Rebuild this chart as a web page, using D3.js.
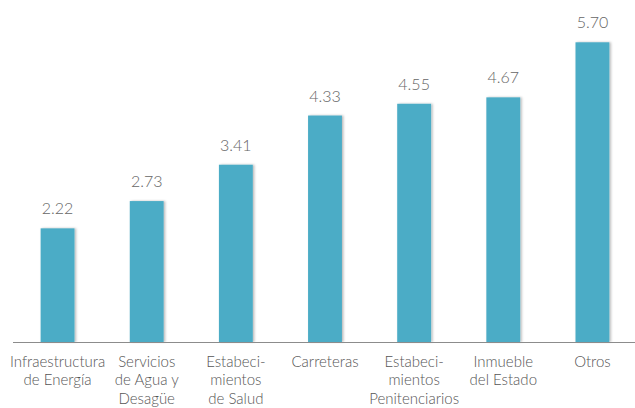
<!DOCTYPE html>
<html>
<head>
<meta charset="utf-8">
<script src="https://cdn.jsdelivr.net/npm/d3@7"></script>
<style>
  html, body { margin: 0; padding: 0; background: #fff; }
  svg text { font-family: "Helvetica Neue", Lato, "Open Sans", sans-serif; font-weight: 300; }
</style>
</head>
<body>
<svg id="chart" width="635" height="408"></svg>
<script>
// Categories (multi-line labels) and values
const categories = [
  ["Infraestructura", "de Energía"],
  ["Servicios", "de Agua y", "Desagüe"],
  ["Estabeci-", "mientos", "de Salud"],
  ["Carreteras"],
  ["Estabeci-", "mientos", "Penitenciarios"],
  ["Inmueble", "del Estado"],
  ["Otros"]
];
const values = [2.22, 2.73, 3.41, 4.33, 4.55, 4.67, 5.70];
const valueLabels = ["2.22", "2.73", "3.41", "4.33", "4.55", "4.67", "5.70"];

const svg = d3.select("#chart");
const W = 635;
const axisY = 342;

const x = d3.scaleBand()
  .domain(d3.range(values.length))
  .range([13, 637])
  .paddingInner(0.62)
  .paddingOuter(0.31);

const y = d3.scaleLinear()
  .domain([0.094, 5.70])
  .range([axisY, 42.3]);

// soft shadow behind the bars
const defs = svg.append("defs");
const f = defs.append("filter").attr("id", "shadow")
  .attr("x", "-30%").attr("y", "-10%").attr("width", "160%").attr("height", "120%");
f.append("feDropShadow")
  .attr("dx", 1.5).attr("dy", 0).attr("stdDeviation", 1.3)
  .attr("flood-color", "#000").attr("flood-opacity", 0.28);

svg.append("g").selectAll("rect")
  .data(values)
  .join("rect")
  .attr("x", (d, i) => x(i))
  .attr("y", d => y(d))
  .attr("width", x.bandwidth())
  .attr("height", d => axisY - y(d))
  .attr("fill", "#4BACC6")
  .attr("filter", "url(#shadow)");

// baseline
svg.append("line")
  .attr("x1", 13).attr("x2", W)
  .attr("y1", axisY + 0.5).attr("y2", axisY + 0.5)
  .attr("stroke", "#8c8c8c").attr("stroke-width", 1);

// value labels
svg.append("g").selectAll("text")
  .data(values)
  .join("text")
  .attr("x", (d, i) => x(i) + x.bandwidth() / 2)
  .attr("y", d => y(d) - 14)
  .attr("text-anchor", "middle")
  .attr("font-size", 16)
  .attr("fill", "#666")
  .text((d, i) => valueLabels[i]);

// category labels
const cat = svg.append("g").selectAll("text")
  .data(categories)
  .join("text")
  .attr("text-anchor", "middle")
  .attr("font-size", 15)
  .attr("fill", "#555")
  .attr("transform", (d, i) => `translate(${x(i) + x.bandwidth() / 2},367)`);
cat.selectAll("tspan")
  .data(d => d)
  .join("tspan")
  .attr("x", 0)
  .attr("y", (d, j) => j * 18.3)
  .text(d => d);
</script>
</body>
</html>
